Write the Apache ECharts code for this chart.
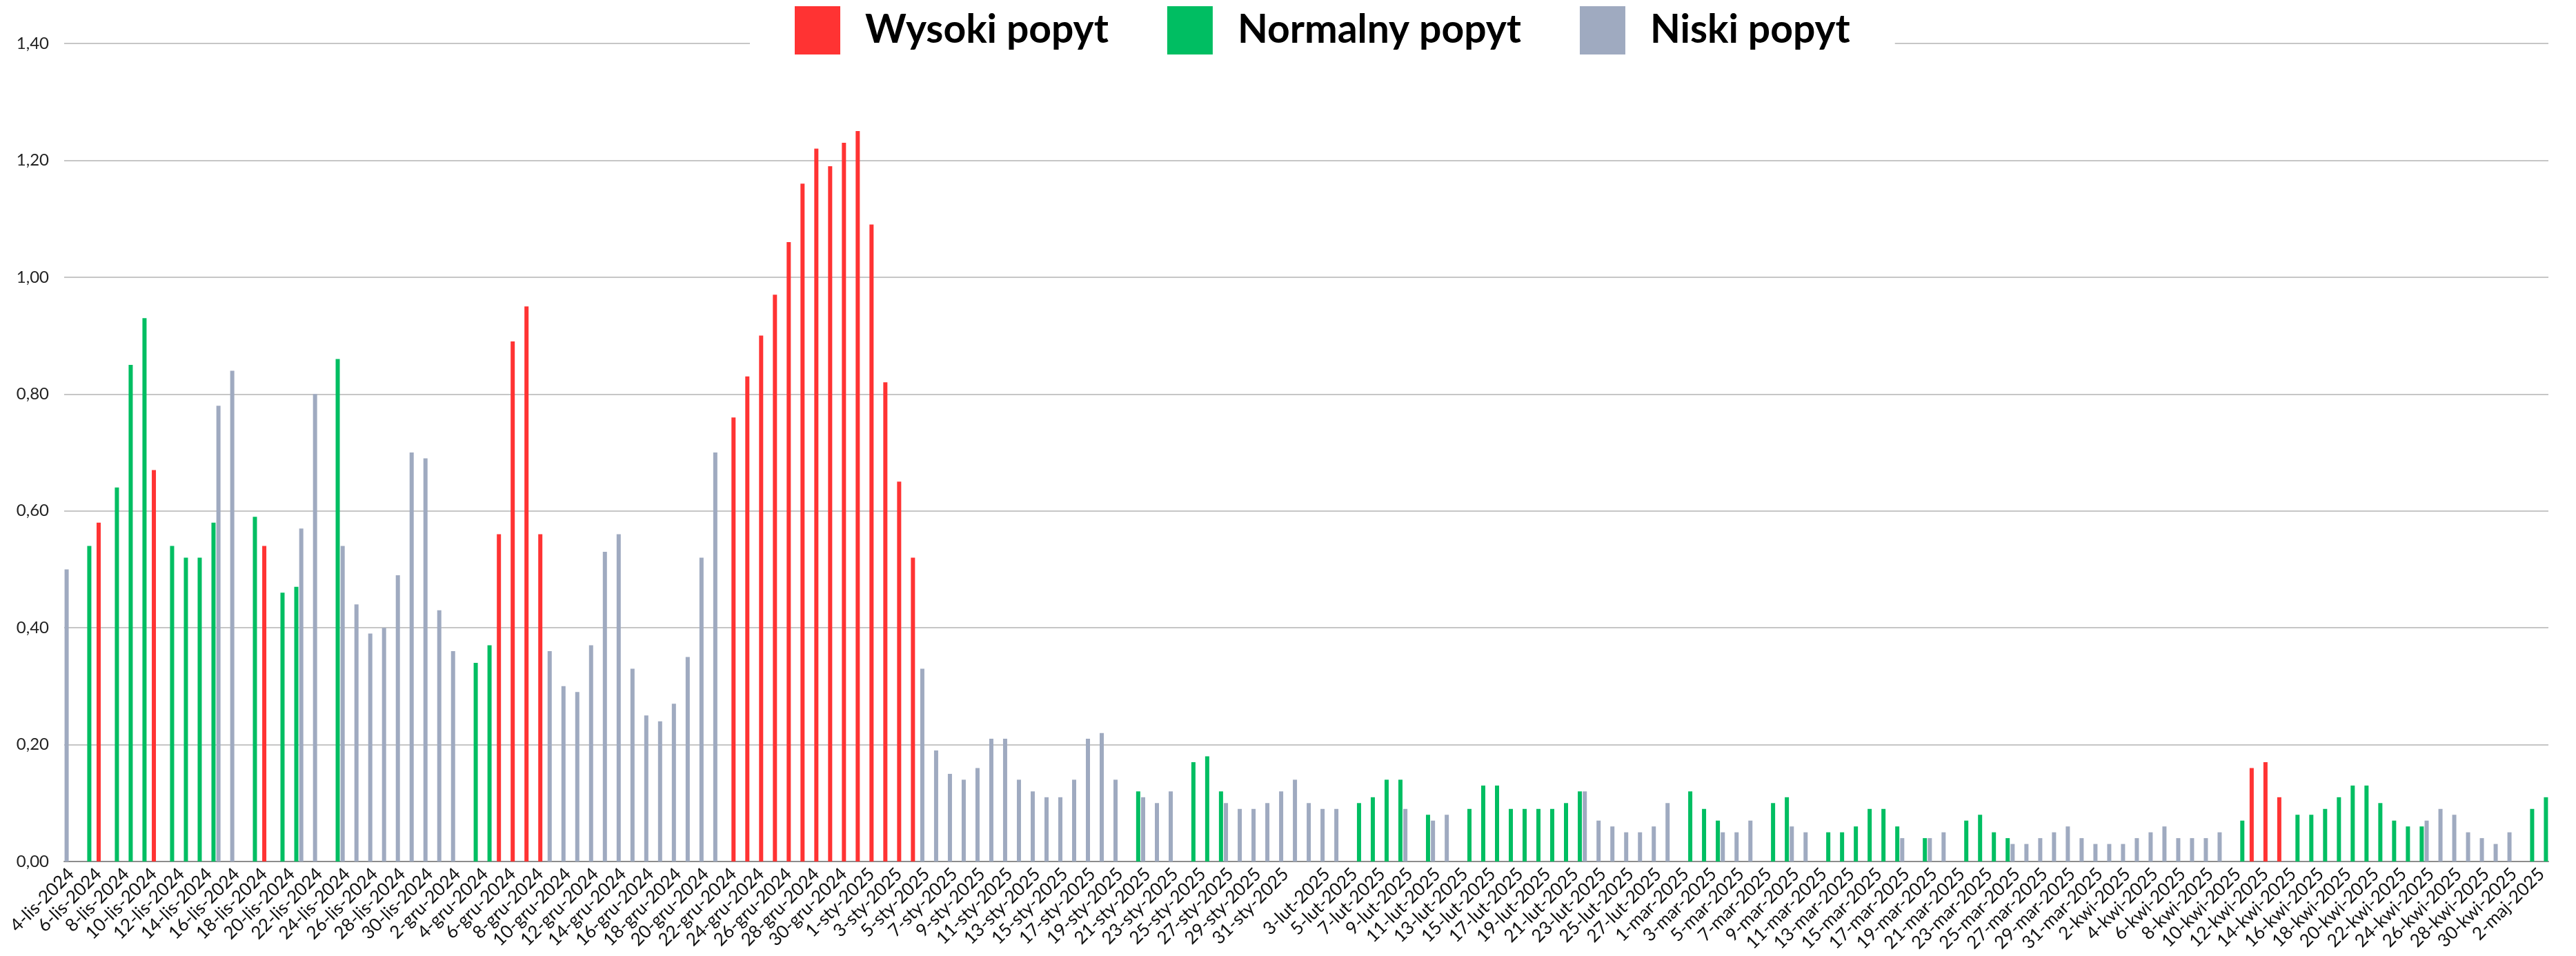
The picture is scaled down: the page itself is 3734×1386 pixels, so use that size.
<!DOCTYPE html>
<html>
<head>
<meta charset="utf-8">
<script src="https://cdn.jsdelivr.net/npm/echarts@6/dist/echarts.min.js"></script>
<style>
html,body{margin:0;padding:0;background:#fff;}
#chart{width:3734px;height:1386px;}
</style>
</head>
<body>
<div id="chart"></div>
<script>
// Months covered by the category axis: [short name, year, first day, last day]
const monthSpans = [
  ['lis', 2024, 4, 30],
  ['gru', 2024, 1, 31],
  ['sty', 2025, 1, 31],
  ['lut', 2025, 1, 28],
  ['mar', 2025, 1, 31],
  ['kwi', 2025, 1, 30],
  ['maj', 2025, 1, 2]
];
const categories = [];
monthSpans.forEach(([m, y, a, b]) => { for (let d = a; d <= b; d++) categories.push(d + '-' + m + '-' + y); });

// Tick labels shown on the x axis
const tickLabels = [
  '4-lis-2024','6-lis-2024','8-lis-2024','10-lis-2024','12-lis-2024','14-lis-2024','16-lis-2024','18-lis-2024','20-lis-2024','22-lis-2024','24-lis-2024','26-lis-2024','28-lis-2024','30-lis-2024',
  '2-gru-2024','4-gru-2024','6-gru-2024','8-gru-2024','10-gru-2024','12-gru-2024','14-gru-2024','16-gru-2024','18-gru-2024','20-gru-2024','22-gru-2024','24-gru-2024','26-gru-2024','28-gru-2024','30-gru-2024',
  '1-sty-2025','3-sty-2025','5-sty-2025','7-sty-2025','9-sty-2025','11-sty-2025','13-sty-2025','15-sty-2025','17-sty-2025','19-sty-2025','21-sty-2025','23-sty-2025','25-sty-2025','27-sty-2025','29-sty-2025','31-sty-2025',
  '3-lut-2025','5-lut-2025','7-lut-2025','9-lut-2025','11-lut-2025','13-lut-2025','15-lut-2025','17-lut-2025','19-lut-2025','21-lut-2025','23-lut-2025','25-lut-2025','27-lut-2025',
  '1-mar-2025','3-mar-2025','5-mar-2025','7-mar-2025','9-mar-2025','11-mar-2025','13-mar-2025','15-mar-2025','17-mar-2025','19-mar-2025','21-mar-2025','23-mar-2025','25-mar-2025','27-mar-2025','29-mar-2025','31-mar-2025',
  '2-kwi-2025','4-kwi-2025','6-kwi-2025','8-kwi-2025','10-kwi-2025','12-kwi-2025','14-kwi-2025','16-kwi-2025','18-kwi-2025','20-kwi-2025','22-kwi-2025','24-kwi-2025','26-kwi-2025','28-kwi-2025','30-kwi-2025',
  '2-maj-2025'
];
const yTicks = [0, 0.2, 0.4, 0.6, 0.8, 1.0, 1.2, 1.4];

// Daily value (one per category)
const values = [
  0.50,0.54,0.58,0.64,0.85,0.93,0.67,0.54,0.52,0.52,
  0.58,0.78,0.84,0.59,0.54,0.46,0.47,0.57,0.80,0.86,
  0.54,0.44,0.39,0.40,0.49,0.70,0.69,0.43,0.36,0.34,
  0.37,0.56,0.89,0.95,0.56,0.36,0.30,0.29,0.37,0.53,
  0.56,0.33,0.25,0.24,0.27,0.35,0.52,0.70,0.76,0.83,
  0.90,0.97,1.06,1.16,1.22,1.19,1.23,1.25,1.09,0.82,
  0.65,0.52,0.33,0.19,0.15,0.14,0.16,0.21,0.21,0.14,
  0.12,0.11,0.11,0.14,0.21,0.22,0.14,0.12,0.11,0.10,
  0.12,0.17,0.18,0.12,0.10,0.09,0.09,0.10,0.12,0.14,
  0.10,0.09,0.09,0.10,0.11,0.14,0.14,0.09,0.08,0.07,
  0.08,0.09,0.13,0.13,0.09,0.09,0.09,0.09,0.10,0.12,
  0.12,0.07,0.06,0.05,0.05,0.06,0.10,0.12,0.09,0.07,
  0.05,0.05,0.07,0.10,0.11,0.06,0.05,0.05,0.05,0.06,
  0.09,0.09,0.06,0.04,0.04,0.04,0.05,0.07,0.08,0.05,
  0.04,0.03,0.03,0.04,0.05,0.06,0.04,0.03,0.03,0.03,
  0.04,0.05,0.06,0.04,0.04,0.04,0.05,0.07,0.16,0.17,
  0.11,0.08,0.08,0.09,0.11,0.13,0.13,0.10,0.07,0.06,
  0.06,0.07,0.09,0.08,0.05,0.04,0.03,0.05,0.09,0.11
];
// Demand class of each day: H = Wysoki, M = Normalny, L = Niski
const levels = [
  'L','M','H','M','M','M','H','M','M','M',
  'M','L','L','M','H','M','M','L','L','M',
  'L','L','L','L','L','L','L','L','L','M',
  'M','H','H','H','H','L','L','L','L','L',
  'L','L','L','L','L','L','L','L','H','H',
  'H','H','H','H','H','H','H','H','H','H',
  'H','H','L','L','L','L','L','L','L','L',
  'L','L','L','L','L','L','L','M','L','L',
  'L','M','M','M','L','L','L','L','L','L',
  'L','L','L','M','M','M','M','L','M','L',
  'L','M','M','M','M','M','M','M','M','M',
  'L','L','L','L','L','L','L','M','M','M',
  'L','L','L','M','M','L','L','M','M','M',
  'M','M','M','L','M','L','L','M','M','M',
  'M','L','L','L','L','L','L','L','L','L',
  'L','L','L','L','L','L','L','M','H','H',
  'H','M','M','M','M','M','M','M','M','M',
  'M','L','L','L','L','L','L','L','M','M'
];

const seriesNames = { H: 'Wysoki popyt', M: 'Normalny popyt', L: 'Niski popyt' };
const seriesColors = { H: '#FF3333', M: '#00BE62', L: '#9FAAC0' };
const legendOrder = ['Wysoki popyt', 'Normalny popyt', 'Niski popyt'];
const drawOrder = ['L', 'H', 'M'];

const FONT = 'Lato, "Noto Sans", sans-serif';

const series = drawOrder.map(code => ({
  name: seriesNames[code],
  type: 'bar',
  barWidth: 6,
  barGap: '7%',
  itemStyle: { color: seriesColors[code] },
  data: values.map((v, i) => levels[i] === code ? v : '-')
}));

const chart = echarts.init(document.getElementById('chart'), null, { renderer: 'canvas' });
chart.setOption({
  animation: false,
  backgroundColor: '#ffffff',
  grid: { left: 93, right: 40, top: 63, bottom: 137, containLabel: false },
  legend: {
    data: legendOrder,
    left: 1087,
    top: 9,
    padding: [0, 65, 0, 65],
    backgroundColor: '#ffffff',
    itemWidth: 66,
    itemHeight: 70,
    itemGap: 85,
    icon: 'rect',
    z: 10,
    textStyle: { fontFamily: FONT, fontSize: 57, fontWeight: 'bold', color: '#000000', padding: [0, 0, 0, 31] }
  },
  xAxis: {
    type: 'category',
    data: categories,
    boundaryGap: true,
    axisLine: { show: true, lineStyle: { color: '#8C8C8C', width: 2 } },
    axisTick: { show: false },
    axisLabel: {
      interval: (idx, val) => tickLabels.indexOf(val) >= 0,
      rotate: 45,
      margin: 14,
      fontFamily: FONT,
      fontSize: 26,
      color: '#111111'
    },
    splitLine: { show: false }
  },
  yAxis: {
    type: 'value',
    min: yTicks[0],
    max: yTicks[yTicks.length - 1],
    interval: yTicks[1] - yTicks[0],
    axisLine: { show: false },
    axisTick: { show: false },
    axisLabel: {
      margin: 22,
      fontFamily: FONT,
      fontSize: 24,
      color: '#222222',
      formatter: v => v.toFixed(2).replace('.', ',')
    },
    splitLine: { lineStyle: { color: '#C6C6C6', width: 2 } }
  },
  series: series
});
</script>
</body>
</html>
